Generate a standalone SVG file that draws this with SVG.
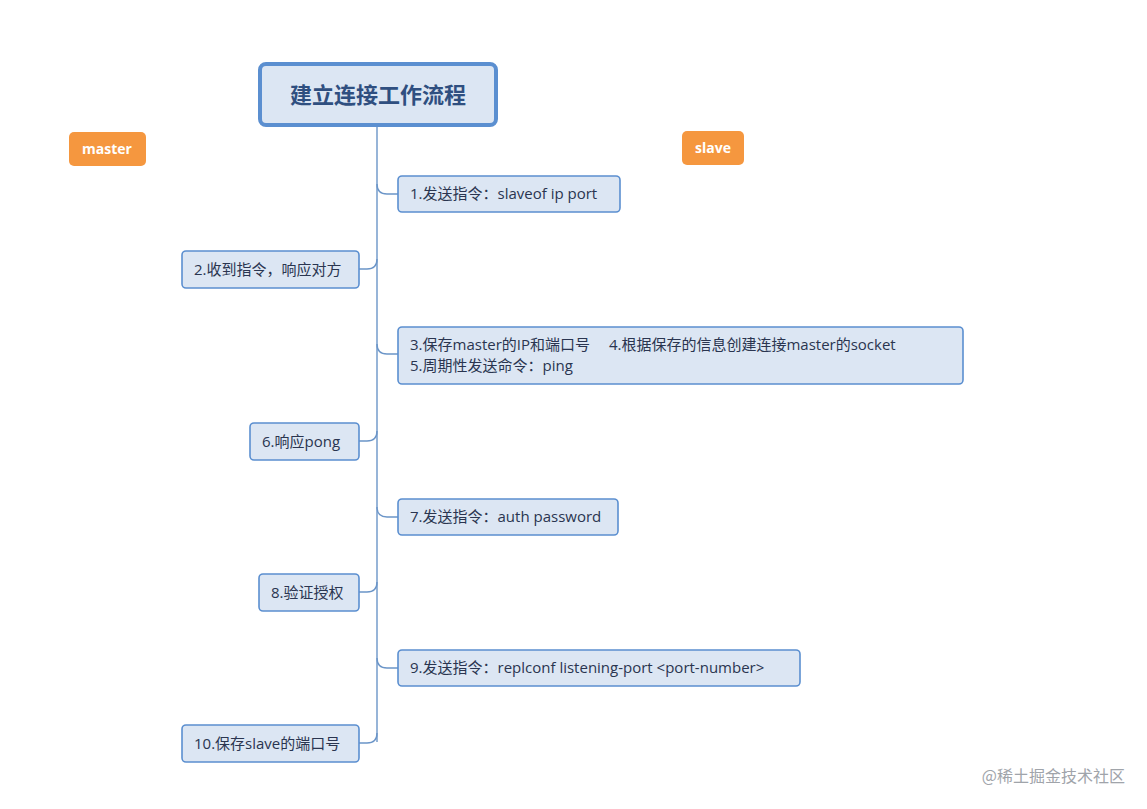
<svg xmlns="http://www.w3.org/2000/svg" width="1147" height="809" viewBox="0 0 1147 809">
<style>
.n{fill:#dce6f3;stroke:#5b8fd0;stroke-width:1.6}
.t{font-family:"Open Sans","Noto Sans CJK SC",sans-serif;font-size:15px;fill:#2a3550}
.o{fill:#f5973f}
.ot{font-family:"Open Sans","Noto Sans CJK SC",sans-serif;font-size:14px;font-weight:bold;fill:#fff}
.c{fill:none;stroke:#6b95c8;stroke-width:1.4}
</style>
<rect width="1147" height="809" fill="#fff"/>
<g id="connectors">
<path class="c" d="M377,127 V742"/>
<path class="c" d="M377,184 Q377,194 387,194 H398"/>
<path class="c" d="M359,269 H367 Q377,269 377,259"/>
<path class="c" d="M377,344 Q377,354 387,354 H398"/>
<path class="c" d="M359,441 H367 Q377,441 377,431"/>
<path class="c" d="M377,507 Q377,517 387,517 H398"/>
<path class="c" d="M359,592 H367 Q377,592 377,582"/>
<path class="c" d="M377,658 Q377,668 387,668 H398"/>
<path class="c" d="M359,743 H367 Q377,743 377,733"/>
</g>
<g id="title"><rect x="260" y="64" width="236" height="61" rx="6" fill="#dce6f3" stroke="#5b8fd0" stroke-width="4"/>
<text x="378" y="103" text-anchor="middle" font-family="'Noto Sans CJK SC',sans-serif" font-size="22" font-weight="bold" fill="#2f4f80">建立连接工作流程</text></g>
<g id="master"><rect class="o" x="69" y="132" width="77" height="34" rx="5"/><text class="ot" x="107" y="154" text-anchor="middle">master</text></g>
<g id="slave"><rect class="o" x="682" y="131" width="62" height="34" rx="5"/><text class="ot" x="713" y="153" text-anchor="middle">slave</text></g>
<g id="n1"><rect class="n" x="398" y="176" width="222" height="36" rx="4"/><text class="t" x="410" y="199">1.发送指令：slaveof ip port</text></g>
<g id="n2"><rect class="n" x="182" y="251" width="177" height="37" rx="4"/><text class="t" x="194" y="275">2.收到指令，响应对方</text></g>
<g id="n3"><rect class="n" x="398" y="327" width="565" height="57" rx="4"/><text class="t" x="410" y="350">3.保存master的IP和端口号　  4.根据保存的信息创建连接master的socket</text><text class="t" x="410" y="371">5.周期性发送命令：ping</text></g>
<g id="n6"><rect class="n" x="250" y="423" width="109" height="37" rx="4"/><text class="t" x="262" y="447">6.响应pong</text></g>
<g id="n7"><rect class="n" x="398" y="499" width="220" height="36" rx="4"/><text class="t" x="410" y="522">7.发送指令：auth password</text></g>
<g id="n8"><rect class="n" x="259" y="574" width="100" height="37" rx="4"/><text class="t" x="271" y="598">8.验证授权</text></g>
<g id="n9"><rect class="n" x="398" y="650" width="402" height="36" rx="4"/><text class="t" x="410" y="673">9.发送指令：replconf listening-port &lt;port-number&gt;</text></g>
<g id="n10"><rect class="n" x="182" y="725" width="177" height="37" rx="4"/><text class="t" x="194" y="749">10.保存slave的端口号</text></g>
<text x="1125" y="782" text-anchor="end" font-family="'Noto Sans CJK SC',sans-serif" font-size="16" fill="#a0a4aa">@稀土掘金技术社区</text>
</svg>
